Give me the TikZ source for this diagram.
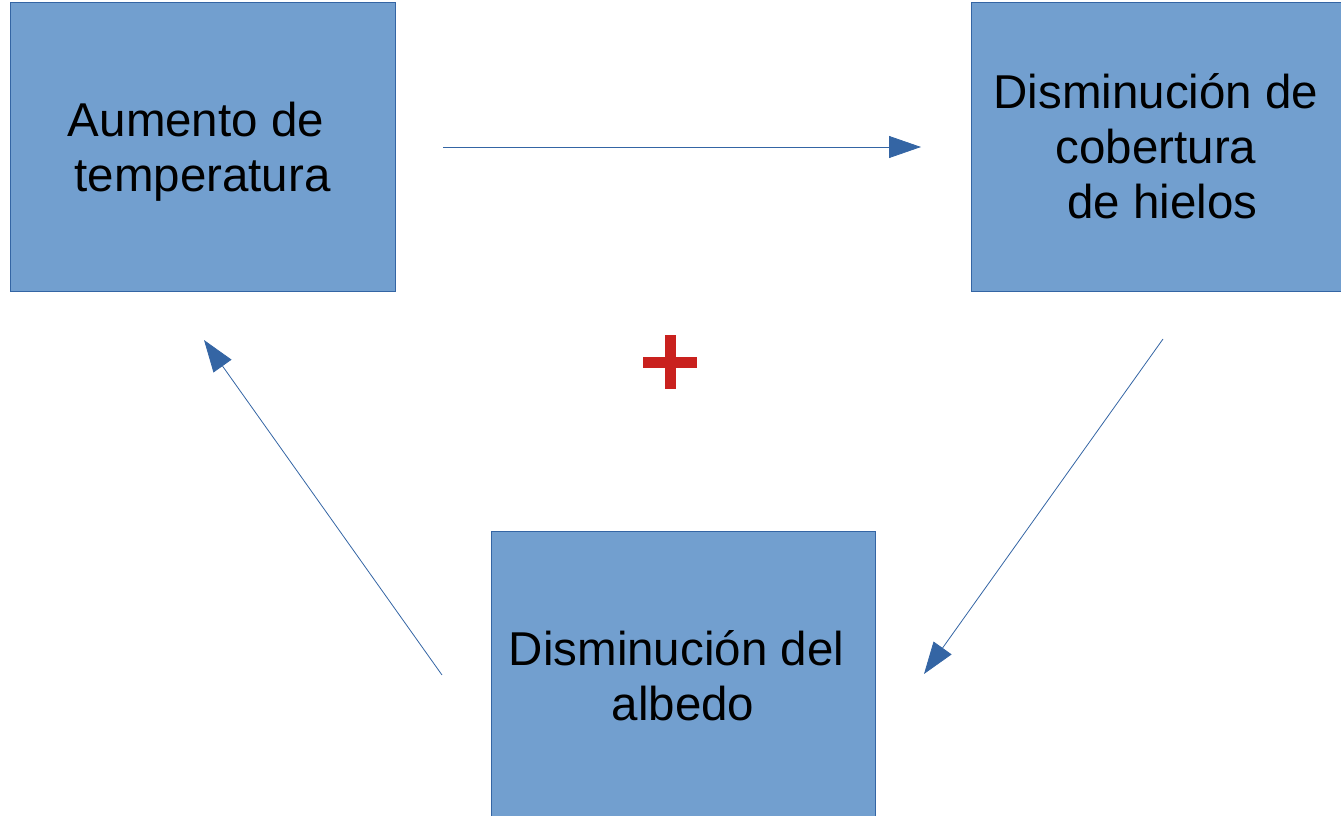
\documentclass[tikz,border=0pt]{standalone}
\usepackage{fontspec}
\setmainfont{Liberation Sans}
\usetikzlibrary{arrows.meta}
\definecolor{boxfill}{HTML}{729FCF}
\definecolor{boxline}{HTML}{3465A4}
\definecolor{plusred}{HTML}{C9211E}
\begin{document}
\begin{tikzpicture}[x=1pt,y=-1pt,
  boxnode/.style={draw=boxline,fill=boxfill,line width=0.8pt,inner sep=0pt},
  boxtext/.style={inner sep=0pt,align=center,font=\fontsize{47.5}{55}\selectfont,text=black},
  link/.style={draw=boxline,line width=0.8pt,-{Triangle[length=32pt,width=22pt]}}]
\useasboundingbox (0,0) rectangle (1341,816);
\node[boxnode,minimum width=385pt,minimum height=289pt] (t) at (202.5,146.5) {};
\node[boxnode,minimum width=370pt,minimum height=289pt] (h) at (1156,146.5) {};
\node[boxnode,minimum width=384pt,minimum height=285pt] (a) at (683,673.5) {};
\node[boxtext] (tt) at ([yshift=-5pt]t.center) {Aumento de\rule{13pt}{0pt}\\temperatura};
\node[boxtext] (ht) at ([yshift=0pt]h.center) {Disminución de\\cobertura\\~de hielos};
\node[boxtext] (at) at ([yshift=-2pt]a.center) {Disminución del\rule{13pt}{0pt}\\albedo};
\coordinate (s1) at (443,147); \coordinate (e1) at (921,147);
\coordinate (s2) at (1163,339); \coordinate (e2) at (924,674);
\coordinate (s3) at (442,675); \coordinate (e3) at (204,340);
\draw[link] (s1) -- (e1);
\draw[link] (s2) -- (e2);
\draw[link] (s3) -- (e3);
\node[inner sep=0pt] (plus) at (670,362) {\tikz[x=1pt,y=1pt]{\fill[plusred] (-27,-5.5) rectangle (27,5.5); \fill[plusred] (-5.5,-27) rectangle (5.5,27);}};
\end{tikzpicture}
\end{document}
